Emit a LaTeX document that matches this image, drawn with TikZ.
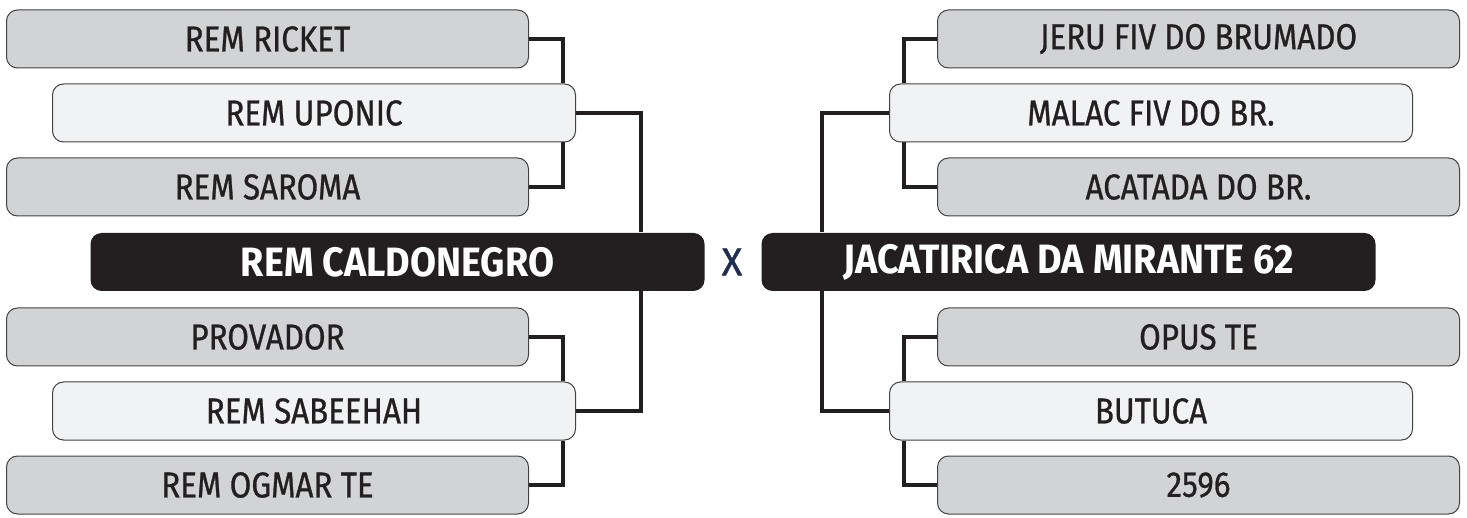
\documentclass[tikz,border=0pt]{standalone}
\usepackage{fontspec}
\setmainfont{Fira Sans}[FakeStretch=0.87, FakeBold=0.8]
\newfontfamily\finalfont{Fira Sans}[FakeStretch=0.92]
\newfontfamily\vsfont{Fira Sans}[FakeStretch=0.98, FakeBold=1]
\usepackage{tikz}
\usetikzlibrary{positioning,backgrounds}
\definecolor{boxgrey}{HTML}{D1D3D4}
\definecolor{boxlight}{HTML}{F1F2F3}
\definecolor{boxdark}{HTML}{231F20}
\definecolor{vsnavy}{HTML}{1E2F57}
\definecolor{linkcol}{HTML}{231F20}

\begin{document}
\begin{tikzpicture}[x=1pt,y=-1pt,
    team/.style={draw=linkcol!85, line width=1pt, rounded corners=11pt, minimum height=58pt, inner sep=0pt, text=linkcol, font=\fontsize{36}{36}\selectfont},
    sidebox/.style={team, fill=boxgrey, minimum width=522pt},
    midbox/.style={team, fill=boxlight, minimum width=523pt},
    finalbox/.style={team, draw=none, fill=boxdark, minimum width=614pt, text=white, font=\fontsize{41}{41}\finalfont\bfseries},
    link/.style={draw=linkcol, line width=4.5pt}]
    \useasboundingbox (0,0) rectangle (1467,518);

    % left bracket
    \node[sidebox, anchor=west] (ricket) at (6,39) {REM RICKET};
    \node[midbox, anchor=west] (uponic) at (52,113) {REM UPONIC};
    \node[sidebox, anchor=west] (saroma) at (6,187) {REM SAROMA};
    \node[finalbox, anchor=west] (caldo) at (90,262) {REM CALDONEGRO};
    \node[sidebox, anchor=west] (provador) at (6,337) {PROVADOR};
    \node[midbox, anchor=west] (sabeehah) at (52,411) {REM SABEEHAH};
    \node[sidebox, anchor=west] (ogmar) at (6,485) {REM OGMAR TE};

    \node[text=vsnavy, font=\fontsize{39}{39}\vsfont] (vs) at (732,262) {X};

    % right bracket
    \node[finalbox, anchor=east] (jaca) at (1376,262) {JACATIRICA DA MIRANTE 62};
    \node[sidebox, anchor=east] (jeru) at (1460,39) {JERU FIV DO BRUMADO};
    \node[midbox, anchor=east] (malac) at (1413,113) {MALAC FIV DO BR.};
    \node[sidebox, anchor=east] (acatada) at (1460,187) {ACATADA DO BR.};
    \node[sidebox, anchor=east] (opus) at (1460,337) {OPUS TE};
    \node[midbox, anchor=east] (butuca) at (1413,411) {BUTUCA};
    \node[sidebox, anchor=east] (n2596) at (1460,485) {2596};

    \begin{scope}[on background layer]
        \draw[link] (ricket.east) -- ++(34,0) coordinate (l1) -- (l1 |- uponic.north);
        \draw[link] (saroma.east) -- ++(34,0) coordinate (l2) -- (l2 |- uponic.south);
        \draw[link] (uponic.east) -- ++(65,0) coordinate (l3) -- (l3 |- caldo.north);
        \draw[link] (sabeehah.east) -- ++(65,0) coordinate (l4) -- (l4 |- caldo.south);
        \draw[link] (provador.east) -- ++(34,0) coordinate (l5) -- (l5 |- sabeehah.north);
        \draw[link] (ogmar.east) -- ++(34,0) coordinate (l6) -- (l6 |- sabeehah.south);

        \draw[link] (jeru.west) -- ++(-33,0) coordinate (r1) -- (r1 |- malac.north);
        \draw[link] (acatada.west) -- ++(-33,0) coordinate (r2) -- (r2 |- malac.south);
        \draw[link] (malac.west) -- ++(-67,0) coordinate (r3) -- (r3 |- jaca.north);
        \draw[link] (butuca.west) -- ++(-67,0) coordinate (r4) -- (r4 |- jaca.south);
        \draw[link] (opus.west) -- ++(-33,0) coordinate (r5) -- (r5 |- butuca.north);
        \draw[link] (n2596.west) -- ++(-33,0) coordinate (r6) -- (r6 |- butuca.south);
    \end{scope}
\end{tikzpicture}
\end{document}
